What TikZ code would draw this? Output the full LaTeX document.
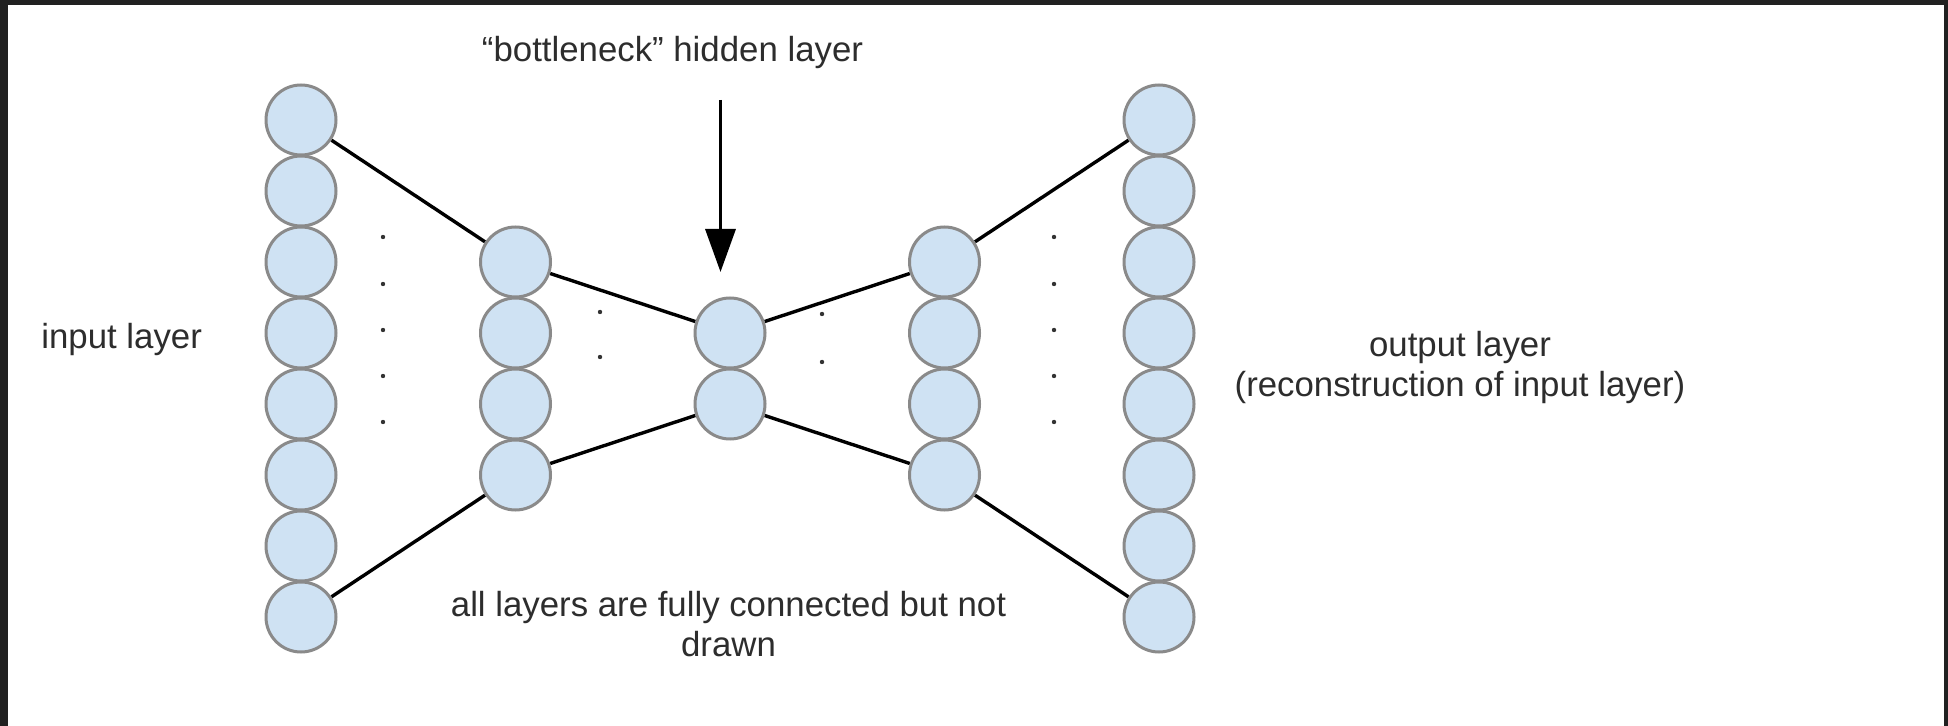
\documentclass[tikz,border=0pt]{standalone}
\usepackage{fontspec}
\setmainfont{Liberation Sans}
\usetikzlibrary{arrows.meta,backgrounds}
\definecolor{unitfill}{RGB}{207,226,243}
\definecolor{unitline}{RGB}{138,138,138}
\definecolor{framedark}{RGB}{33,33,33}
\definecolor{labeltext}{RGB}{45,45,45}
\begin{document}
\begin{tikzpicture}[x=0.5pt,y=-0.5pt,
  unit/.style={circle,draw=unitline,fill=unitfill,line width=1.5pt,
    minimum size=35pt,inner sep=0pt},
  link/.style={line width=1.7pt,black},
  gapdot/.style={fill=black!80,draw=none},
  label/.style={font=\fontsize{17.4}{20}\selectfont,text=labeltext,
    inner sep=0pt,align=center}]
\useasboundingbox (0,0) rectangle (1948,726);

% neuron columns: 8 - 4 - 2 - 4 - 8, rows 71px apart
\foreach \k in {0,...,7} \node[unit] (a\k) at (301,120+71*\k) {};
\foreach \k in {2,...,5} \node[unit] (b\k) at (515.5,120+71*\k) {};
\foreach \k in {3,4}     \node[unit] (c\k) at (730,120+71*\k) {};
\foreach \k in {2,...,5} \node[unit] (d\k) at (944.5,120+71*\k) {};
\foreach \k in {0,...,7} \node[unit] (e\k) at (1159,120+71*\k) {};

% frame and outline connectors, kept behind the neurons
\begin{scope}[on background layer]
  \fill[framedark] (0,0) rectangle (1948,726);
  \fill[white] (8,5) rectangle (1944,726);
  \draw[link] (a0) -- (b2);
  \draw[link] (b2) -- (c3);
  \draw[link] (c3) -- (d2);
  \draw[link] (d2) -- (e0);
  \draw[link] (a7) -- (b5);
  \draw[link] (b5) -- (c4);
  \draw[link] (c4) -- (d5);
  \draw[link] (d5) -- (e7);
\end{scope}

% ellipsis dots between the layers
\foreach \y in {237,284,330,376,422} {
  \fill[gapdot] (383,\y) circle[radius=2.2];
  \fill[gapdot] (1054,\y) circle[radius=2.2];
}
\fill[gapdot] (600,312) circle[radius=2.2];
\fill[gapdot] (600,357) circle[radius=2.2];
\fill[gapdot] (822,314) circle[radius=2.2];
\fill[gapdot] (822,362) circle[radius=2.2];

% labels (multi-line labels sit on the baseline of their last line)
\node[label,anchor=base west] (inlabel) at (41,349) {input layer};
\node[label,anchor=base] (bnlabel) at (672.5,62) {“bottleneck” hidden layer};
\node[label,anchor=base] (outlabel) at (1460,397)
  {output layer\\(reconstruction of input layer)};
\node[label,anchor=base] (notelabel) at (728.5,656)
  {all layers are fully connected but not\\drawn};

% pointer to the bottleneck layer
\coordinate (arrowtail) at (720.5,100);
\coordinate (arrowtip) at (720.5,272);
\draw[line width=1.7pt,-{Triangle[width=15pt,length=21.5pt]}]
  (arrowtail) -- (arrowtip);
\end{tikzpicture}
\end{document}
